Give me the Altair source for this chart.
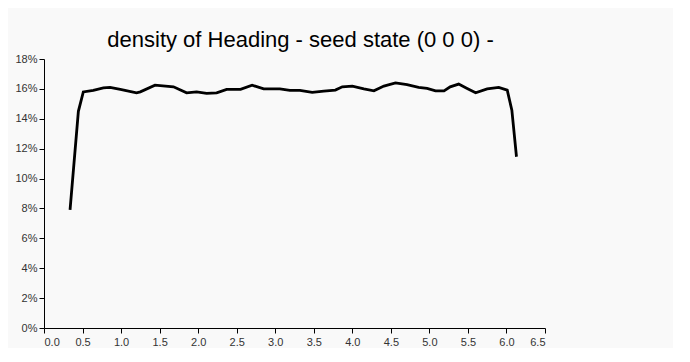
import altair as alt
import pandas as pd

heading = [0.338, 0.446, 0.51, 0.64, 0.77, 0.857, 0.99, 1.2, 1.25, 1.44, 1.68, 1.85, 1.98,
           2.11, 2.24, 2.37, 2.55, 2.7, 2.85, 3.06, 3.19, 3.32, 3.48, 3.63, 3.78, 3.87,
           4.0, 4.15, 4.28, 4.41, 4.56, 4.71, 4.86, 4.97, 5.08, 5.19, 5.27, 5.38, 5.49,
           5.6, 5.75, 5.9, 6.01, 6.07, 6.13]
density = [0.079, 0.145, 0.158, 0.159, 0.1607, 0.161, 0.1597, 0.1574, 0.158, 0.1625,
           0.1614, 0.1574, 0.158, 0.157, 0.1574, 0.1597, 0.1597, 0.1625, 0.160, 0.160,
           0.159, 0.159, 0.1577, 0.1585, 0.1592, 0.1614, 0.1619, 0.160, 0.1587, 0.1619,
           0.164, 0.1628, 0.161, 0.1603, 0.1587, 0.1587, 0.1614, 0.1632, 0.1603, 0.1574,
           0.160, 0.161, 0.1592, 0.1458, 0.1146]

df = pd.DataFrame({"heading": heading, "density": density})

x_ticks = [0.0, 0.5, 1.0, 1.5, 2.0, 2.5, 3.0, 3.5, 4.0, 4.5, 5.0, 5.5, 6.0, 6.5]
y_ticks = [0.0, 0.02, 0.04, 0.06, 0.08, 0.10, 0.12, 0.14, 0.16, 0.18]

axis_common = dict(grid=False, domainColor="#000", tickColor="#000", tickSize=5,
                   labelFont="Liberation Sans", labelFontSize=11, labelColor="#333",
                   title=None, domainWidth=1, tickWidth=1)

chart = alt.Chart(df).mark_line(color="#000", strokeWidth=2.8).encode(
    x=alt.X("heading:Q", scale=alt.Scale(domain=[0, 6.5], nice=False, zero=False),
            axis=alt.Axis(values=x_ticks, format=".1f", labelPadding=3, **axis_common)),
    y=alt.Y("density:Q", scale=alt.Scale(domain=[0, 0.18], nice=False),
            axis=alt.Axis(values=y_ticks, format=".0%", labelPadding=2, **axis_common)),
).properties(
    width=501,
    height=269,
    title=alt.TitleParams("density of Heading - seed state (0 0 0) -",
                          font="Liberation Sans", fontSize=22, fontWeight="normal",
                          color="#000", anchor="middle", offset=1, dx=6),
    autosize=alt.AutoSizeParams(type="none"),
    padding={"left": 36, "top": 51, "right": 128, "bottom": 20},
    background="#f9f9f9",
).configure_view(stroke=None)

chart.save("out.html", embed_options={"renderer": "svg", "actions": False})
